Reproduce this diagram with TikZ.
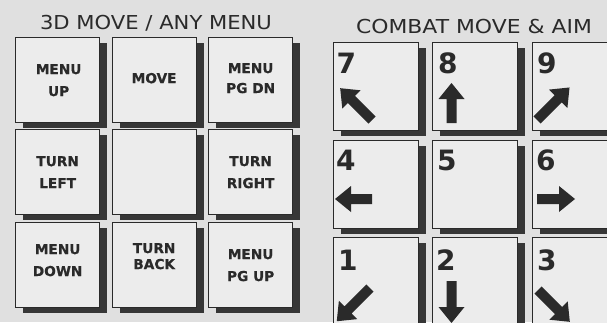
\documentclass[tikz,border=0pt]{standalone}
\usepackage{fontspec}
\setmainfont{DejaVu Sans}
\newfontfamily\keyfont[FakeBold=0.6]{DejaVu Sans Bold}
\usepackage{graphicx}
\usetikzlibrary{shadows,calc}
\definecolor{bgc}{HTML}{E0E0E0}
\definecolor{boxc}{HTML}{ECECEC}
\definecolor{inkc}{HTML}{2A2A2A}
\definecolor{shc}{HTML}{363636}
\tikzset{
  keybase/.style={draw=inkc, fill=boxc, line width=1.3pt, anchor=north west, inner sep=0pt,
    drop shadow={shadow xshift=7.5pt, shadow yshift=-5.5pt, fill=shc, opacity=1}},
  lkey/.style={keybase, minimum width=84pt, minimum height=85pt},
  rkey/.style={keybase, minimum width=85pt, minimum height=88pt},
  klabel/.style={text=inkc, align=center, inner sep=0pt, font={\fontsize{13.7}{22}\selectfont\keyfont}},
  digit/.style={text=inkc, anchor=base west, inner sep=0pt, font={\fontsize{28}{28}\selectfont\bfseries}},
  title/.style={text=inkc, anchor=base, inner sep=0pt, font={\fontsize{19.2}{20}\selectfont}},
  pics/barrow/.style={code={\fill[inkc] (0,-5) -- ({#1-16},-5) -- ({#1-16},-13) -- (#1,0) -- ({#1-16},13) -- ({#1-16},5) -- (0,5) -- cycle;}}
}
\begin{document}
\begin{tikzpicture}[x=1pt,y=-1pt]
\useasboundingbox (0,0) rectangle (607,322);
\clip (0,0) rectangle (607,322);
\fill[bgc] (0,0) rectangle (607,322);

% titles
\node[title] (t1) at (156,29.3) {\scalebox{1.10}[1]{3D MOVE / ANY MENU}};
\node[title] (t2) at (474,33) {\scalebox{1.14}[1]{COMBAT MOVE \& AIM}};

% left grid
\node[lkey] (k1) at (15,37) {};
\node[lkey] (k2) at (111.5,37) {};
\node[lkey] (k3) at (208,37) {};
\node[lkey] (k4) at (15,129) {};
\node[lkey] (k5) at (111.5,129) {};
\node[lkey] (k6) at (208,129) {};
\node[lkey] (k7) at (15,222) {};
\node[lkey] (k8) at (111.5,222) {};
\node[lkey] (k9) at (208,222) {};

\node[klabel] (l1) at ($(k1.center)+(1,0)$) {MENU\\UP};
\node[klabel] (l2) at ($(k2.center)+(0,-2)$) {MOVE};
\node[klabel, font={\fontsize{13.7}{20}\selectfont\keyfont}] (l3) at ($(k3.center)+(0,-2)$) {MENU\\PG DN};
\node[klabel] (l4) at (k4.center) {TURN\\LEFT};
\node[klabel] (l6) at (k6.center) {TURN\\RIGHT};
\node[klabel] (l7) at ($(k7.center)+(0,-5)$) {MENU\\DOWN};
\node[klabel, font={\fontsize{13.7}{16}\selectfont\keyfont}] (l8) at ($(k8.center)+(0,-9)$) {TURN\\BACK};
\node[klabel] (l9) at (k9.center) {MENU\\PG UP};

% right grid
\node[rkey] (n7) at (333,42) {};
\node[rkey] (n8) at (432,42) {};
\node[rkey] (n9) at (532,42) {};
\node[rkey] (n4) at (333,139.5) {};
\node[rkey] (n5) at (432,139.5) {};
\node[rkey] (n6) at (532,139.5) {};
\node[rkey] (n1) at (333,237) {};
\node[rkey] (n2) at (432,237) {};
\node[rkey] (n3) at (532,237) {};

\node[digit] (d7) at ($(n7.north west)+(3.5,31)$) {7};
\node[digit] (d8) at ($(n8.north west)+(6,31)$) {8};
\node[digit] (d9) at ($(n9.north west)+(5,31)$) {9};
\node[digit] (d4) at ($(n4.north west)+(3,31)$) {4};
\node[digit] (d5) at ($(n5.north west)+(5,31)$) {5};
\node[digit] (d6) at ($(n6.north west)+(4,31)$) {6};
\node[digit] (d1) at ($(n1.north west)+(5,33)$) {1};
\node[digit] (d2) at ($(n2.north west)+(4,33)$) {2};
\node[digit] (d3) at ($(n3.north west)+(5,33)$) {3};

% arrows
\pic[rotate=135] at (372,120) {barrow=45};
\pic[rotate=90] at (451.5,123) {barrow=40};
\pic[rotate=45] at (537,120) {barrow=46};
\pic[rotate=180] at (372,199) {barrow=37};
\pic[rotate=0] at (537,199) {barrow=38};
\pic[rotate=225] at (370,288) {barrow=47};
\pic[rotate=270] at (451.5,281) {barrow=42};
\pic[rotate=315] at (538,290) {barrow=45};
\end{tikzpicture}
\end{document}
